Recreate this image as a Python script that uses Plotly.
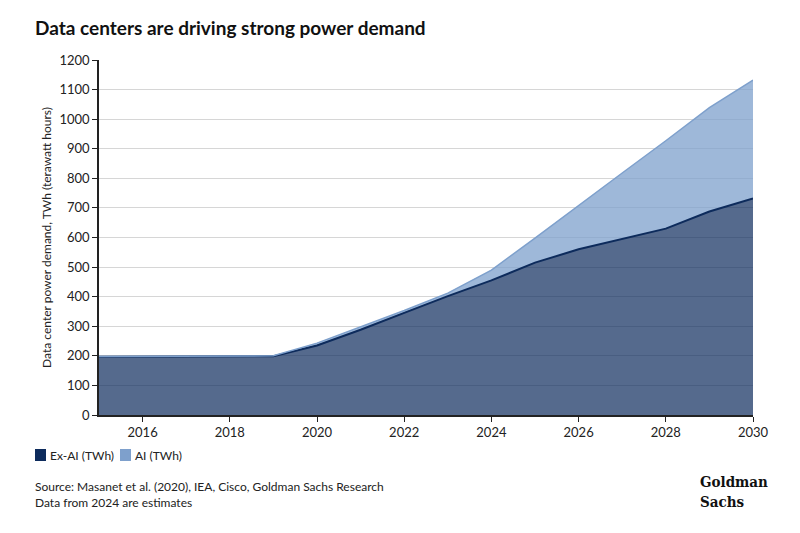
import plotly.graph_objects as go

years = list(range(2015, 2031))
ex_ai = [197, 197, 198, 199, 199, 235, 288, 345, 402, 455, 515, 560, 595, 630, 688, 732]
ai = [1, 1, 1, 1, 1, 8, 9, 8, 10, 35, 83, 149, 223, 297, 351, 400]
x_ticks = [2016, 2018, 2020, 2022, 2024, 2026, 2028, 2030]
series_names = ["Ex-AI (TWh)", "AI (TWh)"]

navy = "#0d2b5c"
light = "#7ea0cc"
font = "Lato"

# page adds an 8px body margin, so everything is placed 8px up/left
L, T, W, H = 91, 52, 654, 355


def px_x(p):  # screen px -> paper x (plot area starts at 99px on screen)
    return (p - 99) / W


def px_y(p):  # screen px -> paper y (plot bottom at 415px on screen)
    return (415 - p) / H


fig = go.Figure()
fig.add_trace(go.Scatter(
    x=years, y=ex_ai, name=series_names[0], stackgroup="s", mode="lines",
    line=dict(color=navy, width=2), fillcolor="rgba(13,43,92,0.70)",
    showlegend=False, hoverinfo="x+y"))
fig.add_trace(go.Scatter(
    x=years, y=ai, name=series_names[1], stackgroup="s", mode="lines",
    line=dict(color=light, width=1.5), fillcolor="rgba(126,160,204,0.75)",
    showlegend=False, hoverinfo="x+y"))

fig.update_layout(
    width=800, height=533,
    margin=dict(l=L, r=800 - L - W, t=T, b=533 - T - H),
    plot_bgcolor="white", paper_bgcolor="white",
    font=dict(family=font, size=13, color="#222"),
    title=dict(text="<b>Data centers are driving strong power demand</b>",
               x=27 / 800, xanchor="left", y=1 - 20 / 533, yanchor="middle",
               font=dict(family=font, size=19, color="#111")),
    showlegend=False,
)
fig.update_xaxes(range=[2015, 2030], tickvals=x_ticks, ticks="outside", ticklen=5,
                 tickcolor="#222", showline=True, linecolor="#222", linewidth=1.5,
                 showgrid=False, zeroline=False, tickfont=dict(size=13))
fig.update_yaxes(range=[0, 1200], dtick=100, ticks="outside", ticklen=5,
                 tickcolor="#222", showline=True, linecolor="#222", linewidth=1.5,
                 gridcolor="#d6d6d6", gridwidth=1, zeroline=False, tickfont=dict(size=13),
                 title=dict(text="Data center power demand, TWh (terawatt hours)",
                            font=dict(size=12), standoff=5))

# legend drawn by hand: square swatch + label
for name, color, x0 in ((series_names[0], navy, 35), (series_names[1], light, 120)):
    fig.add_shape(type="rect", xref="paper", yref="paper",
                  x0=px_x(x0), x1=px_x(x0 + 11), y0=px_y(461), y1=px_y(449),
                  fillcolor=color, line_width=0)
    fig.add_annotation(text=name, xref="paper", yref="paper", x=px_x(x0 + 13), y=px_y(455),
                       xanchor="left", yanchor="middle", showarrow=False,
                       font=dict(size=12, color="#222"))

fig.add_annotation(text="Source: Masanet et al. (2020), IEA, Cisco, Goldman Sachs Research<br>Data from 2024 are estimates",
                   xref="paper", yref="paper", x=px_x(33), y=px_y(477), xanchor="left", yanchor="top",
                   align="left", showarrow=False, font=dict(size=12, color="#222"))
fig.add_annotation(text="<b>Goldman<br>Sachs</b>", xref="paper", yref="paper",
                   x=px_x(698), y=px_y(471), xanchor="left", yanchor="top", align="left",
                   showarrow=False, font=dict(family="DejaVu Serif Condensed", size=15, color="#111"))

fig.write_html("out.html")
